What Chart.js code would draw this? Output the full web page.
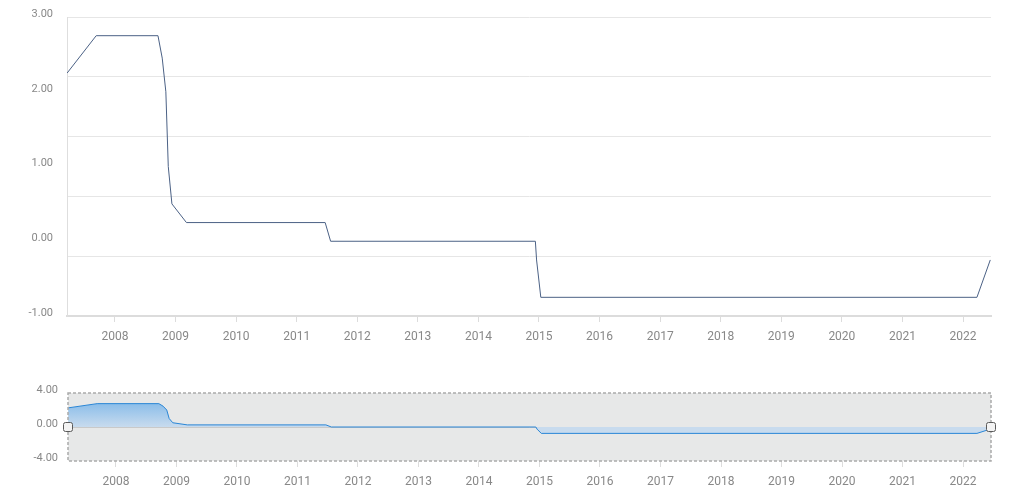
<!DOCTYPE html>
<html>
<head>
<meta charset="utf-8">
<script src="https://cdn.jsdelivr.net/npm/chart.js@4"></script>
<style>
  html, body { margin: 0; padding: 0; background: #fff; }
  #wrap { position: relative; width: 1012px; height: 490px; }
  #main { position: absolute; left: 0; top: 0; }
  #nav { position: absolute; left: 0; top: 380px; }
</style>
</head>
<body>
<div id="wrap">
  <canvas id="main" width="1012" height="360"></canvas>
  <canvas id="nav" width="1012" height="110"></canvas>
</div>
<script>
// policy rate (x = decimal year)
const dates = [2007.21, 2007.69, 2008.71, 2008.78, 2008.84, 2008.88, 2008.94, 2009.18,
               2011.47, 2011.56, 2014.94, 2014.96, 2015.03, 2022.23, 2022.45];
const rates = [2.25, 2.75, 2.75, 2.45, 2.0, 1.0, 0.5, 0.25,
               0.25, 0.0, 0.0, -0.25, -0.75, -0.75, -0.25];
const years = [2008, 2009, 2010, 2011, 2012, 2013, 2014, 2015, 2016, 2017, 2018, 2019, 2020, 2021, 2022];
const xMin = 2007.208, xMax = 2022.462;

const points = dates.map((d, i) => ({ x: d, y: rates[i] }));
const tickColor = '#888';
const fontFam = 'Roboto, "Noto Sans", sans-serif';

function yearTicks(scale) {
    scale.ticks = years.map(v => ({ value: v }));
}

// main chart
new Chart(document.getElementById('main'), {
    type: 'line',
    data: {
        datasets: [{
            data: points,
            borderColor: '#4b6185',
            borderWidth: 1,
            pointRadius: 0,
            tension: 0,
            fill: false
        }]
    },
    options: {
        responsive: false,
        animation: false,
        layout: { padding: { top: 17, right: 21, left: 0, bottom: 0 } },
        plugins: { legend: { display: false }, tooltip: { enabled: false } },
        scales: {
            x: {
                type: 'linear',
                min: xMin,
                max: xMax,
                afterBuildTicks: yearTicks,
                afterFit: s => { s.height = 44; },
                grid: { drawOnChartArea: false, drawTicks: true, tickLength: 6, color: '#dcdcdc' },
                border: { color: '#dcdcdc', width: 2 },
                ticks: {
                    color: tickColor, padding: 8, maxRotation: 0, autoSkip: false,
                    font: { family: fontFam, size: 12 },
                    callback: v => String(v)
                }
            },
            y: {
                min: -1, max: 3,
                ticks: { display: false, stepSize: 0.8 },
                afterFit: s => { s.width = 0; s.paddingTop = 0; s.paddingBottom = 0; },
                grid: { color: '#e6e6e6', drawTicks: false },
                border: { color: '#dedede', width: 1 }
            },
            yLabels: {
                position: 'left',
                min: -1, max: 3,
                afterFit: s => { s.width = 67; s.paddingTop = 0; s.paddingBottom = 0; },
                grid: { display: false, drawTicks: false },
                border: { display: false },
                ticks: {
                    stepSize: 1, color: tickColor, padding: 14, labelOffset: -3,
                    font: { family: fontFam, size: 11 },
                    callback: v => v.toFixed(2)
                }
            }
        }
    }
});

// navigator
const navDecor = {
    id: 'navDecor',
    beforeDraw(chart) {
        const a = chart.chartArea, c = chart.ctx;
        c.save();
        c.fillStyle = '#e7e8e8';
        c.fillRect(a.left, a.top, a.right - a.left, a.bottom - a.top);
        c.restore();
    },
    afterDraw(chart) {
        const a = chart.chartArea, c = chart.ctx;
        c.save();
        c.strokeStyle = '#ababab';
        c.lineWidth = 1.5;
        c.setLineDash([3, 2]);
        c.strokeRect(a.left, a.top, a.right - a.left, a.bottom - a.top);
        c.setLineDash([]);
        const zy = chart.scales.y.getPixelForValue(0);
        [a.left, a.right].forEach(hx => {
            c.beginPath();
            c.roundRect(hx - 4.5, zy - 4.5, 9, 9, 2);
            c.fillStyle = '#f3f3f3';
            c.fill();
            c.strokeStyle = '#5a5a5a';
            c.lineWidth = 1;
            c.stroke();
        });
        c.restore();
    }
};

new Chart(document.getElementById('nav'), {
    type: 'line',
    data: {
        datasets: [{
            data: points,
            borderColor: '#2a86d6',
            borderWidth: 1,
            pointRadius: 0,
            tension: 0,
            fill: 'origin',
            backgroundColor: ctx => {
                const ch = ctx.chart, a = ch.chartArea;
                if (!a) return '#c5d9ee';
                const y = ch.scales.y;
                const g = ch.ctx.createLinearGradient(0, y.getPixelForValue(3), 0, y.getPixelForValue(0));
                g.addColorStop(0, '#86bbe9');
                g.addColorStop(1, '#c8dbee');
                return g;
            }
        }]
    },
    options: {
        responsive: false,
        animation: false,
        layout: { padding: { top: 13, right: 21, left: 0, bottom: 0 } },
        plugins: { legend: { display: false }, tooltip: { enabled: false } },
        scales: {
            x: {
                type: 'linear',
                min: xMin,
                max: xMax,
                afterBuildTicks: yearTicks,
                afterFit: s => { s.height = 29; },
                grid: { drawOnChartArea: false, drawTicks: true, tickLength: 6, color: '#dcdcdc' },
                border: { display: false },
                ticks: {
                    color: tickColor, padding: 8, maxRotation: 0, autoSkip: false,
                    font: { family: fontFam, size: 12 },
                    callback: v => String(v)
                }
            },
            y: {
                min: -4, max: 4,
                afterFit: s => { s.width = 68; s.paddingTop = 0; s.paddingBottom = 0; },
                grid: {
                    drawTicks: false,
                    color: c => c.tick && c.tick.value === 0 ? '#c9c9c9' : 'rgba(0,0,0,0)'
                },
                border: { display: false },
                ticks: {
                    stepSize: 4, color: tickColor, padding: 10, labelOffset: -3,
                    font: { family: fontFam, size: 11 },
                    callback: v => v.toFixed(2)
                }
            }
        }
    },
    plugins: [navDecor]
});
</script>
</body>
</html>
